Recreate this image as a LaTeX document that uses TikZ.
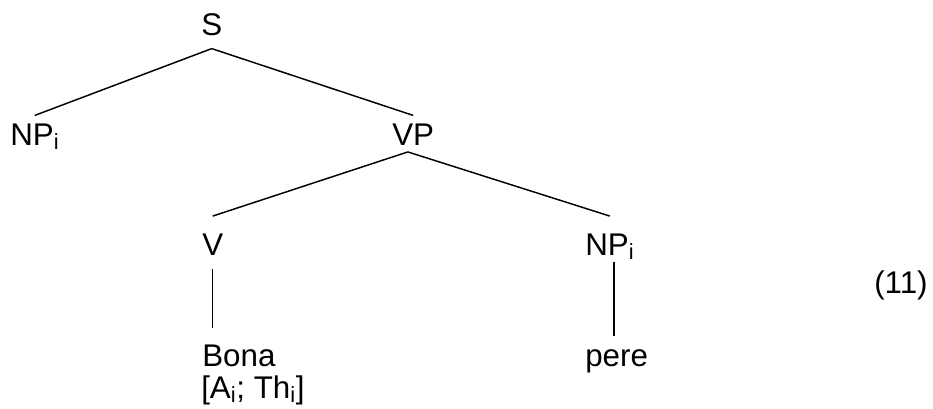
\documentclass[tikz,border=0pt]{standalone}
\usepackage{fontspec}
\setmainfont{Liberation Sans}
\tikzset{
  cat/.style={inner xsep=0pt, inner ysep=5pt, text height=17pt, text depth=0pt, anchor=base west, font=\fontsize{23.5}{24}\selectfont},
  branch/.style={line width=1.1pt},
}
\begin{document}
\begin{tikzpicture}[x=0.75pt, y=-0.75pt]
\useasboundingbox (0,0) rectangle (933,408);
% nodes of the tree
\node[cat] (s) at (201,35) {S};
\node[cat] (np1) at (10,145) {NP\textsubscript{i}};
\node[cat] (vp) at (392,145) {VP};
\node[cat] (v) at (202,255) {V};
\node[cat] (np2) at (585,255) {NP\textsubscript{i}};
\node[cat] (bona) at (202,366) {Bona};
\node[cat] (grid) at (201,398) {[A\textsubscript{i}; Th\textsubscript{i}]};
\node[cat] (pere) at (585,366) {pere};
\node[cat] (num) at (874,293) {(11)};
% branches
\draw[branch] ([yshift=-5pt]s.south) -- (np1.north);
\draw[branch] ([yshift=-5pt]s.south) -- (vp.north);
\draw[branch] ([xshift=-4pt]vp.south) -- ([yshift=7pt]v.north);
\draw[branch] ([xshift=-4pt]vp.south) -- ([yshift=7pt]np2.north);
\draw[branch] ([yshift=-5pt]v.south) -- ([yshift=6pt]v.south |- bona.north);
\draw[branch] ([xshift=3pt]np2.south) -- ([xshift=3pt]np2.south |- pere.north);
\end{tikzpicture}
\end{document}
